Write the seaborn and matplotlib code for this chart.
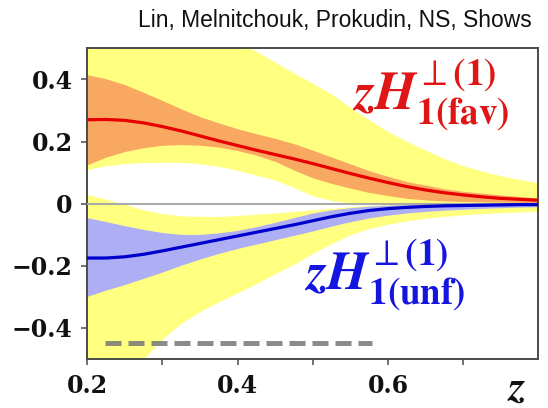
import numpy as np
import pandas as pd
import matplotlib
matplotlib.use("Agg")
import matplotlib.pyplot as plt
import seaborn as sns

# ---------------- data ----------------
z = [0.200, 0.225, 0.250, 0.275, 0.300, 0.325, 0.350, 0.375, 0.400, 0.425,
     0.450, 0.475, 0.500, 0.525, 0.550, 0.575, 0.600, 0.625, 0.650, 0.675,
     0.700, 0.725, 0.750, 0.775, 0.800]

fav_mean = [0.270, 0.271, 0.268, 0.260, 0.248, 0.234, 0.218, 0.202, 0.187, 0.172,
            0.158, 0.144, 0.129, 0.113, 0.097, 0.082, 0.068, 0.055, 0.044, 0.035,
            0.028, 0.022, 0.017, 0.014, 0.011]
fav_hi = [0.415, 0.402, 0.383, 0.358, 0.332, 0.305, 0.280, 0.260, 0.241, 0.225,
          0.210, 0.193, 0.172, 0.150, 0.128, 0.106, 0.088, 0.071, 0.060, 0.048,
          0.040, 0.034, 0.028, 0.023, 0.018]
fav_lo = [0.125, 0.150, 0.168, 0.180, 0.188, 0.190, 0.188, 0.182, 0.171, 0.156,
          0.136, 0.108, 0.083, 0.065, 0.050, 0.036, 0.026, 0.017, 0.012, 0.009,
          0.007, 0.006, 0.005, 0.004, 0.003]
fav_env_hi = [0.730, 0.705, 0.680, 0.655, 0.630, 0.605, 0.578, 0.550, 0.520, 0.490,
              0.455, 0.420, 0.387, 0.352, 0.310, 0.270, 0.232, 0.200, 0.172, 0.145,
              0.122, 0.105, 0.090, 0.078, 0.068]
fav_env_lo = [0.110, 0.122, 0.129, 0.132, 0.133, 0.133, 0.128, 0.120, 0.107, 0.092,
              0.076, 0.052, 0.025, 0.010, 0.002, 0.000, -0.004, -0.006, -0.008, -0.009,
              -0.010, -0.010, -0.010, -0.010, -0.010]

unf_mean = [-0.175, -0.175, -0.171, -0.163, -0.152, -0.140, -0.128, -0.116, -0.104, -0.092,
            -0.080, -0.068, -0.055, -0.042, -0.031, -0.022, -0.016, -0.012, -0.009, -0.007,
            -0.006, -0.005, -0.004, -0.003, -0.003]
unf_hi = [-0.045, -0.058, -0.071, -0.083, -0.093, -0.099, -0.099, -0.094, -0.086, -0.074,
          -0.060, -0.045, -0.030, -0.020, -0.013, -0.008, -0.005, -0.003, -0.002, -0.001,
          -0.001, -0.001, 0.000, 0.000, 0.000]
unf_lo = [-0.298, -0.278, -0.260, -0.240, -0.220, -0.198, -0.178, -0.160, -0.144, -0.130,
          -0.116, -0.102, -0.088, -0.072, -0.058, -0.046, -0.037, -0.030, -0.025, -0.021,
          -0.018, -0.015, -0.013, -0.011, -0.010]
unf_env_hi = [0.030, 0.014, -0.002, -0.020, -0.032, -0.039, -0.041, -0.041, -0.038, -0.034,
              -0.030, -0.025, -0.020, -0.015, -0.010, -0.006, -0.003, -0.002, -0.001, -0.001,
              0.000, 0.000, 0.000, 0.000, 0.000]
unf_env_lo = [-0.780, -0.680, -0.585, -0.500, -0.435, -0.385, -0.347, -0.316, -0.287, -0.257,
              -0.225, -0.195, -0.160, -0.128, -0.100, -0.080, -0.066, -0.055, -0.047, -0.041,
              -0.036, -0.032, -0.029, -0.027, -0.025]

dash_x = [0.224, 0.579]
dash_y = [-0.45, -0.45]

x_ticks = [0.2, 0.3, 0.4, 0.5, 0.6, 0.7]
x_ticklabels = ["0.2", "", "0.4", "", "0.6", ""]
y_ticks = [-0.4, -0.2, 0.0, 0.2, 0.4]
y_ticklabels = ["\u22120.4", "\u22120.2", "0", "0.2", "0.4"]

title_text = "Lin, Melnitchouk, Prokudin, NS, Shows"
fav_label = r"$\mathbfit{zH}_{\mathbf{1(fav)}}^{\perp\mathbf{(1)}}$"
unf_label = r"$\mathbfit{zH}_{\mathbf{1(unf)}}^{\perp\mathbf{(1)}}$"

# ---------------- style ----------------
sns.set_theme(style="ticks")
plt.rcParams["font.family"] = ["DejaVu Sans"]

YELLOW = "#ffff80"
ORANGE = "#f9a862"
LAVENDER = "#aeaef5"
RED = "#e60000"
BLUE = "#0000cc"
SPINE = "#4a4a4a"

fig = plt.figure(figsize=(5.48, 4.08), dpi=100)
ax = fig.add_axes([0.1593, 0.1201, 0.823, 0.7615])

# envelopes
ax.fill_between(z, fav_env_lo, fav_env_hi, color=YELLOW, lw=0, zorder=1)
ax.fill_between(z, unf_env_lo, unf_env_hi, color=YELLOW, lw=0, zorder=1)
# inner bands
ax.fill_between(z, fav_lo, fav_hi, color=ORANGE, lw=0, zorder=2)
ax.fill_between(z, unf_lo, unf_hi, color=LAVENDER, lw=0, zorder=2)

# zero line
ax.axhline(0, color="#aaaaaa", lw=1.5, zorder=3)

# central lines via seaborn
df = pd.DataFrame({
    "z": z + z,
    "val": fav_mean + unf_mean,
    "ch": ["fav"] * len(z) + ["unf"] * len(z),
})
sns.lineplot(data=df, x="z", y="val", hue="ch", palette={"fav": RED, "unf": BLUE},
             linewidth=2.3, legend=False, ax=ax, zorder=4, errorbar=None)

# dashed gray line
ax.plot(dash_x, dash_y, color="#777777", alpha=0.85, lw=3.6,
        dashes=(3.2, 1.4), solid_capstyle="butt", zorder=5)

ax.set_xlim(0.2, 0.8)
ax.set_ylim(-0.5, 0.5)
ax.set_xlabel("")
ax.set_ylabel("")

ax.set_xticks(x_ticks)
ax.set_xticklabels(x_ticklabels)
ax.set_yticks(y_ticks)
ax.set_yticklabels(y_ticklabels)
ax.tick_params(axis="both", direction="out", length=4.5, width=1.1, color=SPINE,
               pad=6, labelcolor="#111111")
for lab in ax.get_xticklabels() + ax.get_yticklabels():
    lab.set_fontfamily("DejaVu Serif")
    lab.set_fontweight("bold")
    lab.set_fontsize(17)

for s in ax.spines.values():
    s.set_color(SPINE)
    s.set_linewidth(1.4)
    s.set_visible(True)

ax.text(0.552, 0.299, fav_label, color="#e01515", fontsize=38, ha="left",
        va="baseline", math_fontfamily="stix", zorder=6)
ax.text(0.488, -0.279, unf_label, color="#1515e0", fontsize=38, ha="left",
        va="baseline", math_fontfamily="stix", zorder=6)

ax.text(0.952, -0.093, r"$\mathbfit{z}$", transform=ax.transAxes, ha="center",
        va="center", fontsize=31, math_fontfamily="stix", color="#111111")

fig.text(531.7 / 548, 1 - 26.7 / 408, title_text, ha="right", va="baseline",
         fontsize=16.5, family=["Liberation Sans", "DejaVu Sans"], color="#111111")

fig.savefig("out.png", dpi=100)
